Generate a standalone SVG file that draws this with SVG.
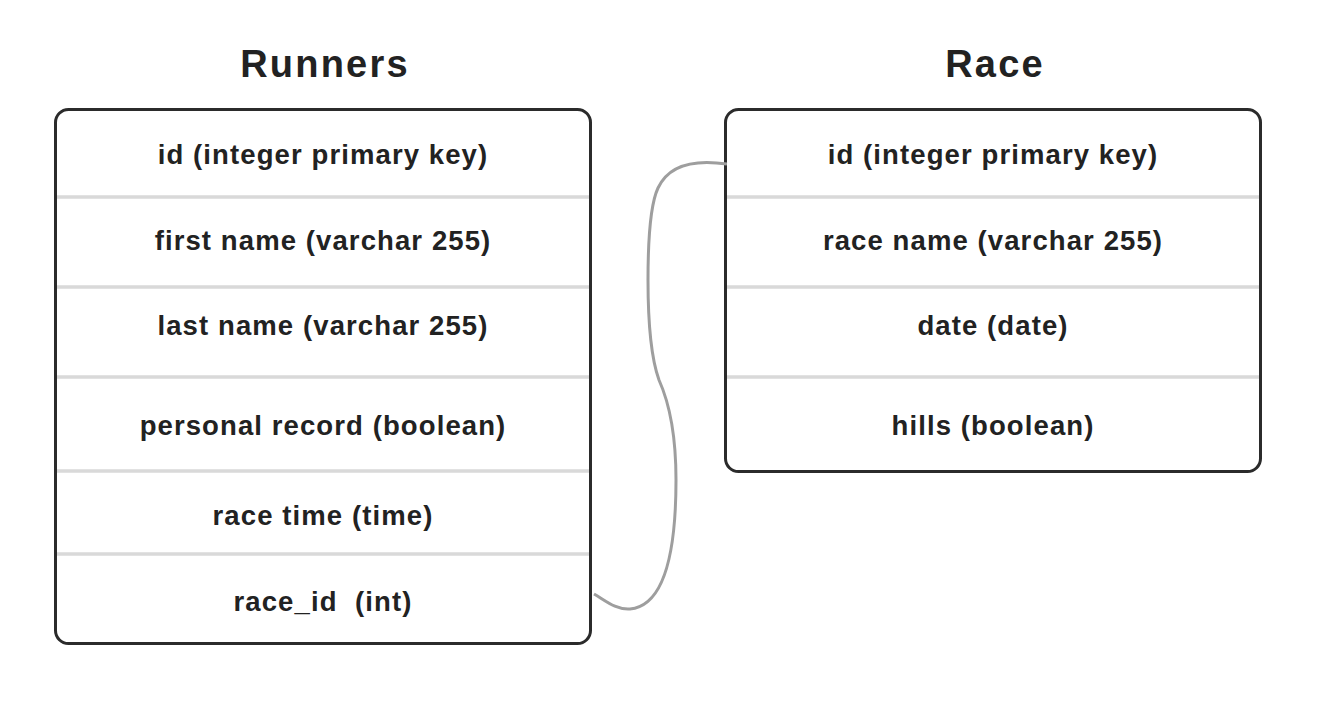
<svg xmlns="http://www.w3.org/2000/svg" width="1328" height="722" viewBox="0 0 1328 722">
<style>
.box{fill:#fff;stroke:#2b2b2b;stroke-width:3}
.sep{stroke:#d9d9d9;stroke-width:3.5}
.title{font-family:"Liberation Sans",Arial,sans-serif;font-weight:bold;font-size:38px;fill:#222;text-anchor:middle;letter-spacing:2.2px}
.row{font-family:"Liberation Sans",Arial,sans-serif;font-weight:bold;font-size:27.5px;fill:#222;text-anchor:middle;letter-spacing:1.1px;white-space:pre}
.link{fill:none;stroke:#9e9e9e;stroke-width:3}
</style>
<rect width="1328" height="722" fill="#fff"/>
<g id="runners">
<text class="title" x="325" y="77">Runners</text>
<rect class="box" x="55.5" y="109.5" width="535" height="534" rx="13"/>
<line class="sep" x1="57" y1="197" x2="589" y2="197"/>
<line class="sep" x1="57" y1="287" x2="589" y2="287"/>
<line class="sep" x1="57" y1="377" x2="589" y2="377"/>
<line class="sep" x1="57" y1="471" x2="589" y2="471"/>
<line class="sep" x1="57" y1="554" x2="589" y2="554"/>
<text class="row" x="323" y="164">id (integer primary key)</text>
<text class="row" x="323" y="250">first name (varchar 255)</text>
<text class="row" x="323" y="335">last name (varchar 255)</text>
<text class="row" x="323" y="435">personal record (boolean)</text>
<text class="row" x="323" y="525">race time (time)</text>
<text class="row" x="323" y="611" xml:space="preserve">race_id  (int)</text>
</g>
<g id="race">
<text class="title" x="995" y="77">Race</text>
<rect class="box" x="725.5" y="109.5" width="535" height="362" rx="13"/>
<line class="sep" x1="727" y1="197" x2="1259" y2="197"/>
<line class="sep" x1="727" y1="287" x2="1259" y2="287"/>
<line class="sep" x1="727" y1="377" x2="1259" y2="377"/>
<text class="row" x="993" y="164">id (integer primary key)</text>
<text class="row" x="993" y="250">race name (varchar 255)</text>
<text class="row" x="993" y="335">date (date)</text>
<text class="row" x="993" y="435">hills (boolean)</text>
</g>
<g id="connectors">
<path class="link" d="M594,594 C606,601 616,610 630,609 C662,606 676,560 676,480 C676,430 668,400 659,380 C650,355 648,320 648,280 C648,240 650,205 658,188 C670,162 700,160 727,164"/>
</g>
</svg>
